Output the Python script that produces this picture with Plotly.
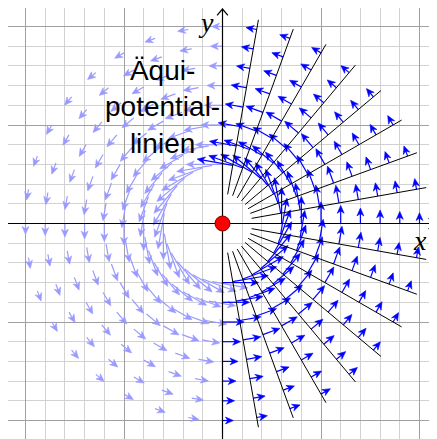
import numpy as np
import plotly.graph_objects as go

# ---- data ----
field_radii = [0.6, 0.8, 1.0, 1.2, 1.4, 1.6, 1.8, 2.0]
field_angles_deg = [0, 10, 20, 30, 40, 50, 60, 70, 80, 90, 100, 110, 120, 130, 140, 150, 160, 170,
                    180, 190, 200, 210, 220, 230, 240, 250, 260, 270, 280, 290, 300, 310, 320, 330, 340, 350]
field_strength = 0.22          # arrow length = field_strength / r
equi_angles_deg = [-80, -70, -60, -50, -40, -30, -20, -10, 10, 20, 30, 40, 50, 60, 70, 80]
equi_r_start = 0.3
equi_r_end = 2.1
label_text = "Äqui-<br>potential-<br>linien"

# ---- layout constants ----
W, H = 437, 439
PAGE_OFF = 8                     # default body margin of the html page
U = 98.5
OX, OY = 222.5 - PAGE_OFF, 223.5 - PAGE_OFF
xr = [-OX / U, (W - OX) / U]
yr = [-(H - OY) / U, OY / U]


def px2x(p):
    return (p - PAGE_OFF - OX) / U


def py2y(p):
    return (OY - (p - PAGE_OFF)) / U


DARK = "rgb(0,0,255)"
LIGHT = "rgb(153,153,255)"
HEAD_L = 0.08
HEAD_W = 0.035


def arrows(selected):
    sx, sy, hx, hy = [], [], [], []
    for r in field_radii:
        for a in selected:
            t = np.radians(a)
            px, py = r * np.cos(t), r * np.sin(t)
            ux, uy = -np.sin(t), np.cos(t)
            L = field_strength / r
            tx, ty = px + L * ux, py + L * uy
            ex, ey = tx - 0.6 * HEAD_L * ux, ty - 0.6 * HEAD_L * uy
            sx += [px, ex, None]
            sy += [py, ey, None]
            bx, by = tx - HEAD_L * ux, ty - HEAD_L * uy
            nx, ny = -uy, ux
            nxp, nyp = tx - 0.7 * HEAD_L * ux, ty - 0.7 * HEAD_L * uy
            hx += [tx, bx + HEAD_W * nx, nxp, bx - HEAD_W * nx, tx, None]
            hy += [ty, by + HEAD_W * ny, nyp, by - HEAD_W * ny, ty, None]
    return sx, sy, hx, hy


dark_angles = [a for a in field_angles_deg if a < 90 or a >= 270]
light_angles = [a for a in field_angles_deg if 90 <= a < 270]

fig = go.Figure()

for sel, col in [(light_angles, LIGHT), (dark_angles, DARK)]:
    sx, sy, hx, hy = arrows(sel)
    fig.add_trace(go.Scatter(x=sx, y=sy, mode="lines", line=dict(color=col, width=1.2),
                             hoverinfo="skip", showlegend=False))
    fig.add_trace(go.Scatter(x=hx, y=hy, mode="lines", fill="toself", fillcolor=col,
                             line=dict(color=col, width=0.6), hoverinfo="skip", showlegend=False))

# equipotential lines
ex, ey = [], []
for a in equi_angles_deg:
    t = np.radians(a)
    ex += [equi_r_start * np.cos(t), equi_r_end * np.cos(t), None]
    ey += [equi_r_start * np.sin(t), equi_r_end * np.sin(t), None]
fig.add_trace(go.Scatter(x=ex, y=ey, mode="lines", line=dict(color="black", width=1),
                         hoverinfo="skip", showlegend=False))

# axes with open arrow tips
xt = px2x(435)
yt = py2y(9)
a_b, a_s = 0.065, 0.055
fig.add_trace(go.Scatter(x=[-2.2, xt, None, xt - a_b, xt, xt - a_b],
                         y=[0, 0, None, a_s, 0, -a_s], mode="lines",
                         line=dict(color="black", width=1.2), hoverinfo="skip", showlegend=False))
fig.add_trace(go.Scatter(x=[0, 0, None, -a_s, 0, a_s],
                         y=[yr[0], yt, None, yt - a_b, yt, yt - a_b], mode="lines",
                         line=dict(color="black", width=1.2), hoverinfo="skip", showlegend=False))

# wire
fig.add_trace(go.Scatter(x=[0], y=[0], mode="markers",
                         marker=dict(size=15, color="rgb(255,0,0)", line=dict(color="rgb(120,0,0)", width=1)),
                         hoverinfo="skip", showlegend=False))

fig.add_annotation(x=px2x(162), y=py2y(107), text=label_text, showarrow=False,
                   font=dict(family="Liberation Sans, Arial, sans-serif", size=28, color="black"),
                   align="center", xanchor="center", yanchor="middle")
fig.add_annotation(x=px2x(420), y=py2y(240), text="<i>x</i>", showarrow=False,
                   font=dict(family="Liberation Serif, serif", size=28, color="black"),
                   xanchor="center", yanchor="middle")
fig.add_annotation(x=px2x(206), y=py2y(22), text="<i>y</i>", showarrow=False,
                   font=dict(family="Liberation Serif, serif", size=28, color="black"),
                   xanchor="center", yanchor="middle")

axis_common = dict(showticklabels=False, zeroline=False, showline=False, ticks="",
                   showgrid=True, tick0=0, dtick=1, gridcolor="#a0a0a0", gridwidth=1.2,
                   minor=dict(tick0=0, dtick=0.2, showgrid=True, gridcolor="#d2d2d2", gridwidth=1.2))
fig.update_layout(width=W, height=H, margin=dict(l=0, r=0, t=0, b=0),
                  paper_bgcolor="white", plot_bgcolor="white",
                  xaxis=dict(range=xr, **axis_common),
                  yaxis=dict(range=yr, **axis_common),
                  showlegend=False)

fig.write_html("out.html")
